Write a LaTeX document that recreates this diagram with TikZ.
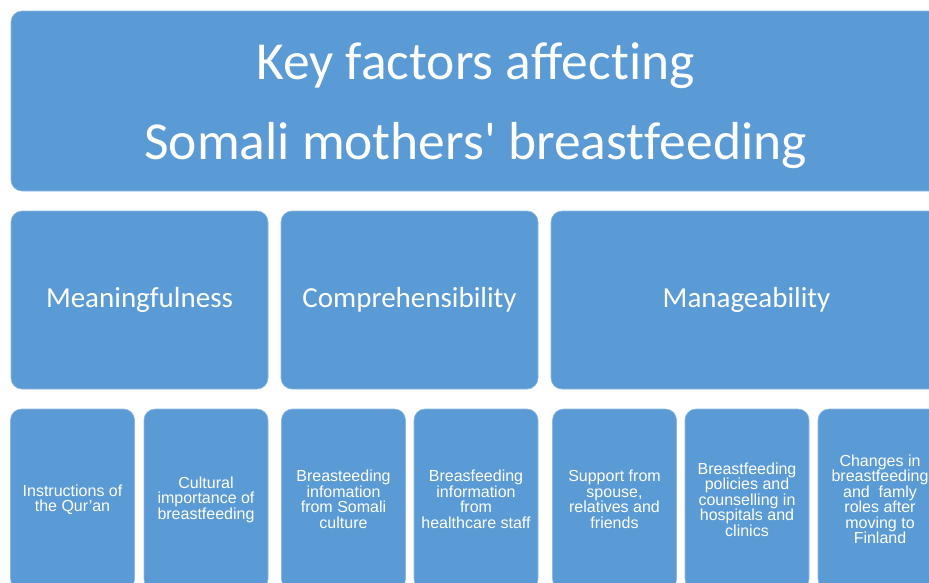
\documentclass[tikz,border=0pt]{standalone}
\usepackage{fontspec}
\setmainfont{Liberation Sans}
\newfontfamily\calib[Ligatures=NoCommon]{Carlito}
\definecolor{boxblue}{RGB}{91,155,213}
\definecolor{edgeblue}{RGB}{140,185,228}
\begin{document}
\begin{tikzpicture}[x=1pt,y=-1pt,
  box/.style={rectangle, rounded corners=11pt, fill=boxblue, draw=edgeblue, line width=0.6pt,
    text=white, inner sep=0pt, align=center},
  titletext/.style={inner sep=0pt, align=center, text=white, font=\calib\fontsize{53.5}{80}\selectfont},
  headbox/.style={box, minimum height=178pt, font=\calib\fontsize{29}{33}\selectfont},
  leafbox/.style={box, minimum width=124pt, minimum height=181pt, font=\fontsize{16}{15.5}\selectfont}]
\useasboundingbox (0,0) rectangle (929,582);
\clip (0,0) rectangle (929,582);
\fill[white] (0,0) rectangle (929,582);
\node[box, minimum width=929pt, minimum height=180pt] (title) at (475.5,101) {};
\node[titletext] (titlelabel) at (475.5,106)
  {Key factors affecting\\Somali mothers' breastfeeding};
\node[headbox, minimum width=257pt] (mean) at (139.5,300) {Meaningfulness};
\node[headbox, minimum width=257pt] (comp) at (409.5,300) {Comprehensibility};
\node[headbox, minimum width=391pt] (mana) at (746.5,300) {Manageability};
\node[leafbox] (l1) at (72.5,499.5) {Instructions of\\the Qur'an};
\node[leafbox] (l2) at (206,499.5) {Cultural\\importance of\\breastfeeding};
\node[leafbox] (l3) at (343.5,499.5) {Breasteeding\\infomation\\from Somali\\culture};
\node[leafbox] (l4) at (476,499.5) {Breasfeeding\\information\\from\\healthcare staff};
\node[leafbox] (l5) at (614.5,499.5) {Support from\\spouse,\\relatives and\\friends};
\node[leafbox] (l6) at (747,499.5) {Breastfeeding\\policies and\\counselling in\\hospitals and\\clinics};
\node[leafbox] (l7) at (880,499.5) {Changes in\\breastfeeding\\and\ \ famly\\roles after\\moving to\\Finland};
\end{tikzpicture}
\end{document}
